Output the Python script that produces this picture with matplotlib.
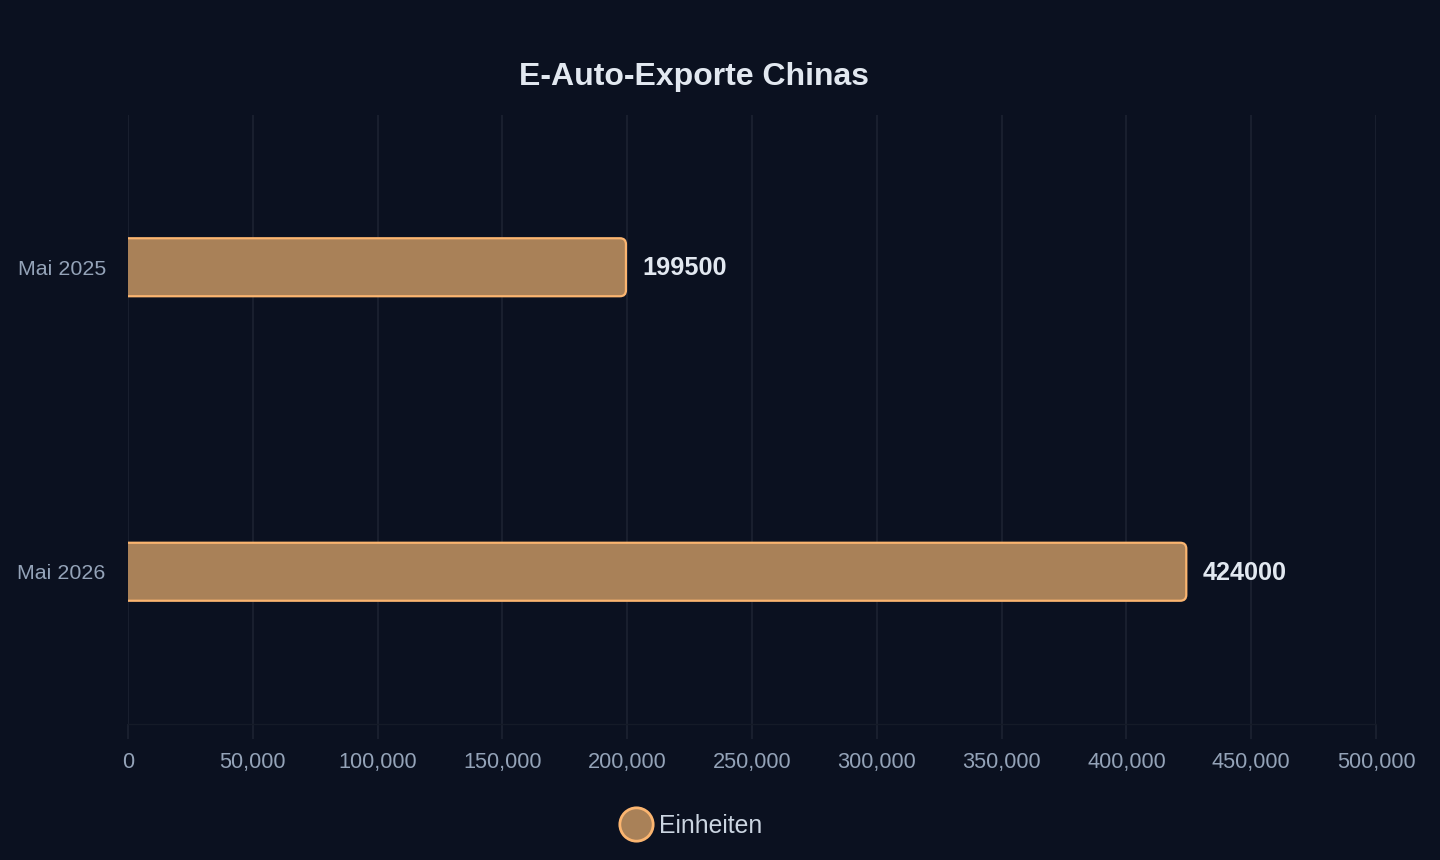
import matplotlib.pyplot as plt
from matplotlib.patches import FancyBboxPatch
from matplotlib.lines import Line2D
from matplotlib.ticker import FuncFormatter

# data
categories = ['Mai 2025', 'Mai 2026']
values = [199500, 424000]
series_name = 'Einheiten'
title = 'E-Auto-Exporte Chinas'

bg = '#0b1120'
fill = '#a98158'
edge = '#fbb570'
grid_c = '#1c2331'

plt.rcParams['font.family'] = ['Liberation Sans', 'DejaVu Sans']

fig = plt.figure(figsize=(14.4, 8.6), dpi=100, facecolor=bg)
ax = fig.add_axes([128 / 1440, 1 - 724 / 860, 1248 / 1440, 609 / 860])
ax.set_facecolor(bg)

ax.set_xlim(0, 500000)
ax.set_ylim(1.5, -0.5)

# aspect used to keep rounded corners circular
x_per_px = 500000 / 1248
y_per_px = 2 / 609
bar_h = 58 * y_per_px
radius = 6 * x_per_px

for i, v in enumerate(values):
    # start left of 0 so the left side is clipped square
    p = FancyBboxPatch((-20 * x_per_px, i - bar_h / 2), v + 20 * x_per_px, bar_h,
                       boxstyle=f'round,pad=0,rounding_size={radius}',
                       mutation_aspect=y_per_px / x_per_px,
                       facecolor=fill, edgecolor=edge, linewidth=1.6,
                       clip_on=True, zorder=3)
    ax.add_patch(p)
    ax.text(v + 16 * x_per_px, i + 1 * y_per_px, str(v), va='center', ha='left',
            fontsize=18.2, fontweight='bold', color='#e2e8f0', zorder=4)

ax.set_yticks(range(len(categories)))
ax.set_yticklabels(categories)
ax.set_xticks(range(0, 500001, 50000))
ax.xaxis.set_major_formatter(FuncFormatter(lambda x, _: f'{int(x):,}'))

ax.grid(axis='x', color=grid_c, linewidth=1.2, zorder=0)
ax.tick_params(axis='x', colors=grid_c, length=11, width=1.2, pad=9,
               labelcolor='#94a3b8', labelsize=15.7)
ax.tick_params(axis='y', length=0, pad=16, labelcolor='#94a3b8', labelsize=15.4)

for s in ['top', 'right', 'left']:
    ax.spines[s].set_visible(False)
ax.spines['bottom'].set_color('#151b28')
ax.spines['bottom'].set_linewidth(1)

fig.text(694 / 1440, 1 - 77 / 860, title, ha='center', va='center',
         fontsize=23, fontweight='bold', color='#e2e8f0')

handle = Line2D([], [], linestyle='none', marker='o', markersize=24,
                markerfacecolor=fill, markeredgecolor=edge, markeredgewidth=2)
leg = fig.legend([handle], [series_name], loc='center',
                 bbox_to_anchor=(689 / 1440, 1 - 826 / 860), frameon=False,
                 fontsize=17.8, handletextpad=0.15, handlelength=1.6)
for t in leg.get_texts():
    t.set_color('#cbd5e1')

plt.savefig('out.png', dpi=100, facecolor=bg)
